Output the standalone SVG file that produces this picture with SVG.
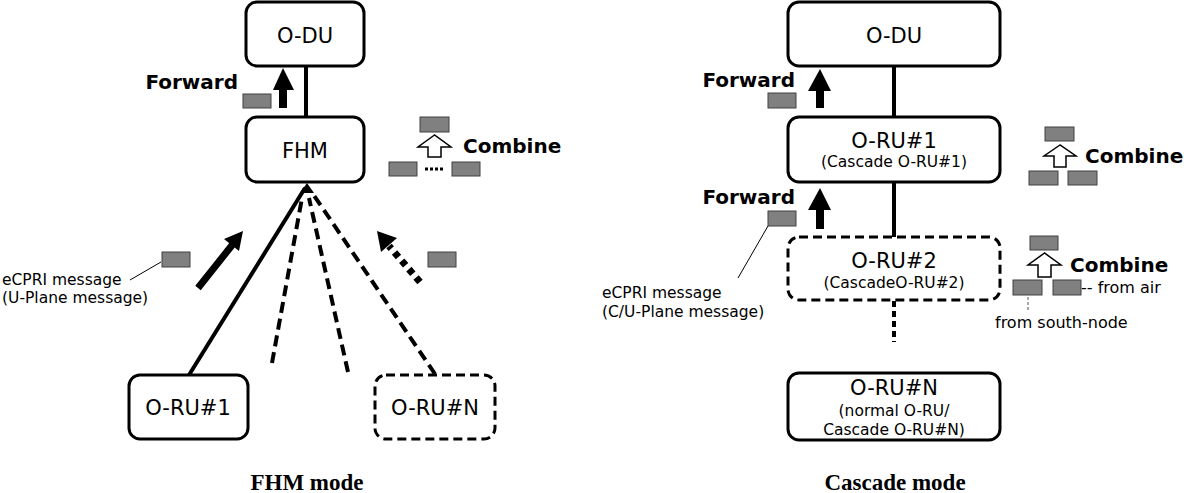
<svg xmlns="http://www.w3.org/2000/svg" width="1184" height="493" viewBox="0 0 1184 493">
<style>
.box{fill:#fff;stroke:#000;stroke-width:3}
.dbox{fill:#fff;stroke:#000;stroke-width:3;stroke-dasharray:9 5}
.msg{fill:#808080;stroke:#404040;stroke-width:1}
.t{font-family:"DejaVu Sans",Verdana,sans-serif;fill:#000}
.n{font-size:21px;text-anchor:middle}
.s{font-size:15.5px;text-anchor:middle}
.b{font-family:"DejaVu Sans",Verdana,sans-serif;font-weight:bold;font-size:20px}
.l{font-size:15.5px}
.f{font-size:16px}
.cap{font-family:"Liberation Serif","Times New Roman",serif;font-weight:bold;font-size:23px;text-anchor:middle}
.ln{stroke:#000;stroke-width:4;fill:none}
.hollow{fill:#fff;stroke:#000;stroke-width:1.5}
</style>
<rect width="1184" height="493" fill="#fff"/>
<g id="connectors">
  <line class="ln" x1="306" y1="66" x2="306" y2="117"/>
  <line class="ln" x1="189" y1="375" x2="305" y2="188"/>
  <line class="ln" x1="272" y1="363" x2="302" y2="198" stroke-dasharray="11 6"/>
  <line class="ln" x1="348" y1="372" x2="309" y2="198" stroke-dasharray="11 6"/>
  <line class="ln" x1="435" y1="374" x2="313" y2="194" stroke-dasharray="11 6"/>
  <polygon points="307,183 300,193 314,193" fill="#000"/>
  <line class="ln" x1="894" y1="66" x2="894" y2="117"/>
  <line class="ln" x1="894" y1="182" x2="894" y2="237"/>
  <line class="ln" x1="894" y1="301" x2="894" y2="342" stroke-dasharray="6 4"/>
</g>
<g id="odu-left">
  <rect class="box" x="246" y="2" width="118" height="64" rx="11"/>
  <text class="t n" x="305" y="43">O-DU</text>
</g>
<g id="fhm">
  <rect class="box" x="246" y="117" width="118" height="65" rx="11"/>
  <text class="t n" x="305" y="158">FHM</text>
</g>
<g id="oru1-left">
  <rect class="box" x="129" y="375" width="119" height="64" rx="11"/>
  <text class="t n" x="188" y="415">O-RU#1</text>
</g>
<g id="orun-left">
  <rect class="dbox" x="375" y="375" width="120" height="64" rx="11"/>
  <text class="t n" x="435" y="415">O-RU#N</text>
</g>
<g id="forward-left">
  <text class="b" x="238" y="89" text-anchor="end">Forward</text>
  <rect class="msg" x="243" y="94" width="28" height="14"/>
  <rect x="279" y="88" width="8" height="20" fill="#000"/>
  <polygon points="273,90 283,68 294,90" fill="#000"/>
</g>
<g id="combine-left">
  <rect class="msg" x="420" y="117" width="29" height="15"/>
  <polygon class="hollow" points="434.5,135 418,147 428,147 428,157 441,157 441,147 451,147"/>
  <text class="b" x="463" y="153">Combine</text>
  <rect class="msg" x="389" y="162" width="28" height="14"/>
  <rect class="msg" x="452" y="162" width="28" height="14"/>
  <line x1="425" y1="169" x2="445" y2="169" stroke="#000" stroke-width="3" stroke-dasharray="3 2"/>
</g>
<g id="upflow-left">
  <line x1="198" y1="288" x2="233" y2="244" stroke="#000" stroke-width="7"/>
  <polygon points="243,231 239,251 224,239" fill="#000"/>
  <line x1="420" y1="282" x2="389" y2="246" stroke="#000" stroke-width="7" stroke-dasharray="6 5"/>
  <polygon points="377,231 397,238 381,252" fill="#000"/>
  <rect class="msg" x="162" y="252" width="28" height="15"/>
  <rect class="msg" x="428" y="252" width="28" height="15"/>
  <line x1="130" y1="280" x2="161" y2="262" stroke="#000" stroke-width="1"/>
  <text class="t l" x="2" y="285">eCPRI message</text>
  <text class="t l" x="2" y="303">(U-Plane message)</text>
</g>
<text class="cap" x="307" y="490">FHM mode</text>

<g id="odu-right">
  <rect class="box" x="788" y="2" width="212" height="64" rx="11"/>
  <text class="t n" x="894" y="43">O-DU</text>
</g>
<g id="oru1-right">
  <rect class="box" x="788" y="117" width="212" height="65" rx="11"/>
  <text class="t n" x="894" y="148">O-RU#1</text>
  <text class="t s" x="894" y="167">(Cascade O-RU#1)</text>
</g>
<g id="oru2-right">
  <rect class="dbox" x="788" y="237" width="212" height="63" rx="11"/>
  <text class="t n" x="894" y="268">O-RU#2</text>
  <text class="t s" x="894" y="288">(CascadeO-RU#2)</text>
</g>
<g id="orun-right">
  <rect class="box" x="788" y="373" width="212" height="67" rx="11"/>
  <text class="t n" x="894" y="395">O-RU#N</text>
  <text class="t s" x="894" y="416">(normal O-RU/</text>
  <text class="t s" x="894" y="435">Cascade O-RU#N)</text>
</g>
<g id="forward-right-1">
  <text class="b" x="795" y="87" text-anchor="end">Forward</text>
  <rect class="msg" x="768" y="93" width="28" height="15"/>
  <rect x="816" y="88" width="8" height="20" fill="#000"/>
  <polygon points="808,91 820,69 831,91" fill="#000"/>
</g>
<g id="forward-right-2">
  <text class="b" x="795" y="204" text-anchor="end">Forward</text>
  <rect class="msg" x="768" y="211" width="28" height="15"/>
  <rect x="816" y="207" width="8" height="22" fill="#000"/>
  <polygon points="808,210 820,188 831,210" fill="#000"/>
  <line x1="768" y1="226" x2="738" y2="278" stroke="#000" stroke-width="1"/>
  <text class="t l" x="602" y="298">eCPRI message</text>
  <text class="t l" x="602" y="317">(C/U-Plane message)</text>
</g>
<g id="combine-right-1">
  <rect class="msg" x="1045" y="127" width="29" height="14"/>
  <polygon class="hollow" points="1060,145 1044,156 1054,156 1054,167 1066,167 1066,156 1076,156"/>
  <text class="b" x="1085" y="163">Combine</text>
  <rect class="msg" x="1029" y="171" width="29" height="14"/>
  <rect class="msg" x="1068" y="171" width="29" height="14"/>
</g>
<g id="combine-right-2">
  <rect class="msg" x="1030" y="236" width="28" height="14"/>
  <polygon class="hollow" points="1044.5,253 1028,265 1038,265 1038,277 1051,277 1051,265 1061,265"/>
  <text class="b" x="1070" y="272">Combine</text>
  <rect class="msg" x="1013" y="280" width="29" height="15"/>
  <rect class="msg" x="1053" y="280" width="28" height="15"/>
  <text class="t f" x="1081" y="293">-- from air</text>
  <line x1="1028" y1="297" x2="1028" y2="312" stroke="#555" stroke-width="1" stroke-dasharray="3 2"/>
  <text class="t f" x="995" y="328">from south-node</text>
</g>
<text class="cap" x="895" y="490">Cascade mode</text>
</svg>
